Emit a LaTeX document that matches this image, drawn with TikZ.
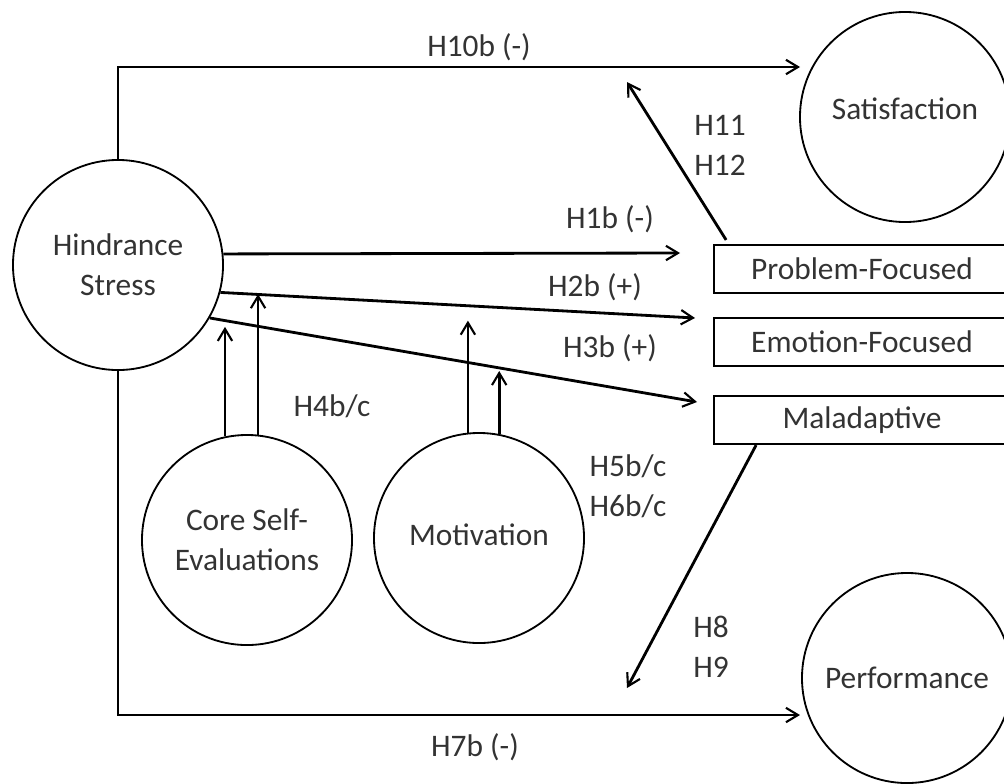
\documentclass[tikz,border=0pt]{standalone}
\usepackage{fontspec}
\setmainfont{Carlito}
\usetikzlibrary{arrows.meta, positioning}

\begin{document}
\begin{tikzpicture}[x=0.025cm, y=-0.025cm,
    every node/.style={font=\fontsize{22.3}{28.5}\selectfont, text=black!80},
    var/.style={draw=black, circle, minimum size=5.25cm, inner sep=0pt, line width=1.3pt, align=center},
    coping/.style={draw=black, rectangle, minimum width=7.4cm, minimum height=1.2cm, line width=1.5pt},
    hyp/.style={line width=2pt, -{Straight Barb[length=3mm, width=3.6mm, line width=1.5pt]}},
    lab/.style={align=left, inner sep=0pt}]
        % Cadre
        \clip (0,0) rectangle (1004,783);
        
        % Les variables
        \node[var] (hind) at (118,265) {Hindrance\\Stress};
        \node[var] (sat) at (905,117) {\raisebox{0.4cm}{Satisfaction}};
        \node[var] (perf) at (907,678) {Performance};
        \node[var] (cse) at (247,540) {Core Self-\\Evaluations};
        \node[var] (motiv) at (479,538) {\raisebox{0.15cm}{Motivation}};
        
        % Les strategies de coping
        \node[coping] (prob) at (862,269) {Problem-Focused};
        \node[coping] (emot) at (862,342) {Emotion-Focused};
        \node[coping] (mal) at (862,420) {Maladaptive};
        
        % Extremites libres
        \coordinate (satin) at (800,67);
        \coordinate (perfin) at (800,715);
        \coordinate (probin) at (680,253);
        \coordinate (emotin) at (695,318);
        \coordinate (malin) at (697,402);
        \coordinate (satback) at (627,82);
        \coordinate (perfback) at (627,688);
        
        % Effets directs
        \draw[hyp] (hind.north) |- (satin);
        \draw[hyp] (hind.south) |- (perfin);
        \draw[hyp] (hind.6.6) -- (probin);
        \draw[hyp] (hind.-15) -- (emotin);
        \draw[hyp] (hind.-30) -- (malin);
        \draw[hyp] ([xshift=0.33cm, yshift=0.1cm]prob.north west) -- (satback);
        \draw[hyp] ([xshift=1.08cm]mal.south west) -- (perfback);
        
        % Moderateurs
        \draw[hyp] (cse.102.65) -- ++(0,-109.5);
        \draw[hyp] (cse.84.5) -- ++(0,-140.5);
        \draw[hyp] (motiv.96.6) -- ++(0,-112);
        \draw[hyp] (motiv.79.6) -- ++(0,-63);
        
        % Les hypotheses
        \node[lab] (h10) at (479,47) {H10b (-)};
        \node[lab] (h7) at (475,747) {H7b (-)};
        \node[lab] (h1) at (610,219) {H1b (-)};
        \node[lab] (h2) at (595,287) {H2b (+)};
        \node[lab] (h3) at (610,348) {H3b (+)};
        \node[lab] (h11) at (720,145) {H11\\H12};
        \node[lab] (h4) at (332,406) {H4b/c};
        \node[lab] (h5) at (628,486) {H5b/c\\H6b/c};
        \node[lab] (h8) at (711,647) {H8\\H9};
    \end{tikzpicture}
\end{document}
